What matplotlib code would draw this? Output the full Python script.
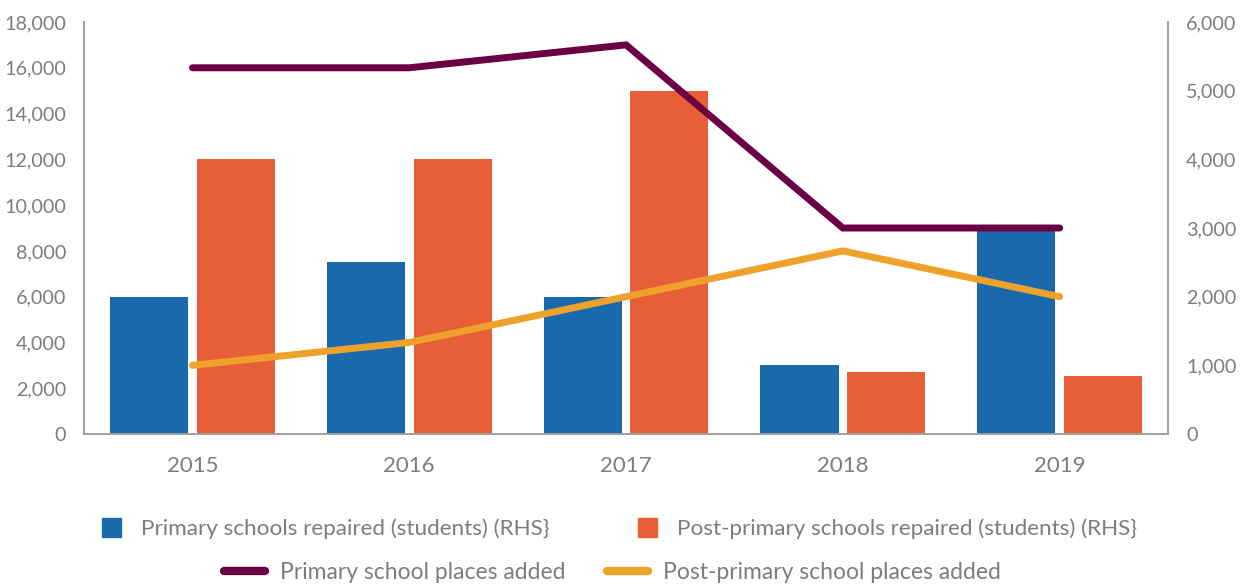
import matplotlib.pyplot as plt
from matplotlib.patches import Patch
from matplotlib.lines import Line2D
import numpy as np

years = ['2015', '2016', '2017', '2018', '2019']
primary_repaired = [2000, 2500, 2000, 1000, 3000]        # RHS
post_primary_repaired = [4000, 4000, 5000, 900, 850]     # RHS
primary_places = [16000, 16000, 17000, 9000, 9000]
post_primary_places = [3000, 4000, 6000, 8000, 6000]

blue = '#1b69ad'
orange = '#e85f37'
purple = '#6b0044'
gold = '#eea22b'
grey = '#7d7d7d'

plt.rcParams['font.family'] = ['Lato', 'DejaVu Sans']

fig = plt.figure(figsize=(12.47, 5.85), dpi=100)
ax = fig.add_axes([0.0674, 0.2581, 0.8693, 0.7043])
ax2 = ax.twinx()

x = np.arange(len(years))
w = 0.36
ax2.bar(x - 0.2, primary_repaired, w, color=blue, zorder=1)
ax2.bar(x + 0.2, post_primary_repaired, w, color=orange, zorder=1)

# lines go on top of the bars
ax.set_zorder(ax2.get_zorder() + 1)
ax.patch.set_visible(False)
ax.plot(x, primary_places, color=purple, lw=5, solid_capstyle='round', solid_joinstyle='miter')
ax.plot(x, post_primary_places, color=gold, lw=5, solid_capstyle='round', solid_joinstyle='miter')

ax.set_xlim(-0.5, 4.5)
ax.set_ylim(0, 18000)
ax2.set_ylim(0, 6000)
ax.set_yticks(range(0, 18001, 2000))
ax2.set_yticks(range(0, 6001, 1000))
ax.set_xticks(x)
ax.set_xticklabels(years)
fmt = lambda v, p: f'{int(v):,}'
ax.yaxis.set_major_formatter(fmt)
ax2.yaxis.set_major_formatter(fmt)

for a in (ax, ax2):
    a.tick_params(length=0, labelsize=14.2, colors=grey)
    a.spines['top'].set_visible(False)
    for s in ('left', 'right', 'bottom'):
        a.spines[s].set_color('#a0a0a0')
        a.spines[s].set_linewidth(1.2)
ax.tick_params(axis='y', pad=13)
ax2.tick_params(axis='y', pad=13)
ax.tick_params(axis='x', pad=16, labelsize=16)

h1 = [Patch(color=blue), Patch(color=orange)]
l1 = ['Primary schools repaired (students) (RHS}', 'Post-primary schools repaired (students) (RHS}']
leg1 = fig.legend(h1, l1, ncol=2, loc='center', bbox_to_anchor=(0.4968, 0.096), frameon=False,
                  prop={'family': ['Lato', 'DejaVu Sans'], 'size': 16.2},
                  handlelength=0.85, handleheight=0.9, handletextpad=0.9, columnspacing=3.9)
h2 = [Line2D([], [], color=purple, lw=6, solid_capstyle='round'),
      Line2D([], [], color=gold, lw=6, solid_capstyle='round')]
l2 = ['Primary school places added', 'Post-primary school places added']
leg2 = fig.legend(h2, l2, ncol=2, loc='center', bbox_to_anchor=(0.491, 0.021), frameon=False,
                  prop={'family': ['Lato', 'DejaVu Sans'], 'size': 16.5},
                  handlelength=1.8, handletextpad=0.65, columnspacing=1.8)
for lg in (leg1, leg2):
    for t in lg.get_texts():
        t.set_color(grey)

fig.savefig('out.png', dpi=100)
